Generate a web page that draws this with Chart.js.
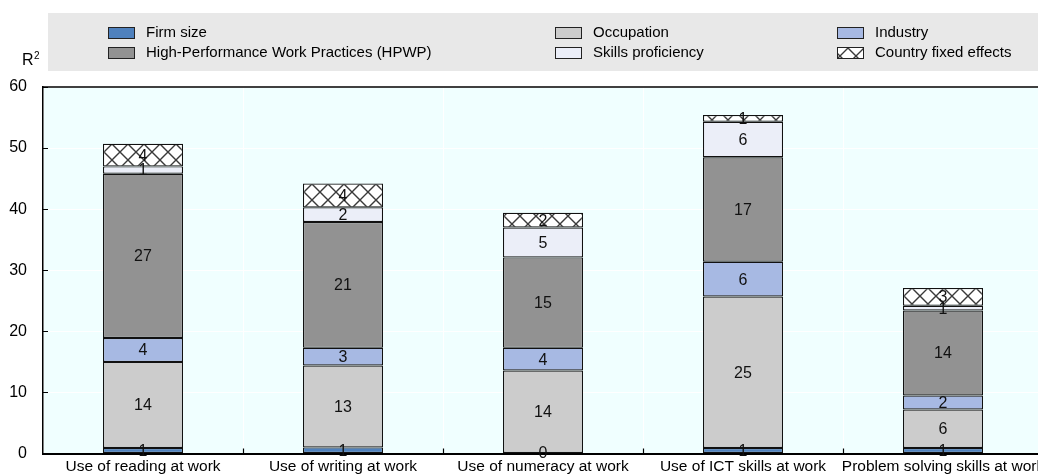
<!DOCTYPE html>
<html><head><meta charset="utf-8">
<script src="https://cdn.jsdelivr.net/npm/chart.js@4.4.1/dist/chart.umd.min.js"></script>
<style>
html,body{margin:0;padding:0;background:#fff;overflow:hidden;width:1038px;height:476px;}
#wrap{position:absolute;left:0;top:0;width:1043px;height:476px;}
</style></head>
<body>
<div id="wrap"><canvas id="c" width="1043" height="476"></canvas></div>
<script>
const categories = ['Use of reading at work','Use of writing at work','Use of numeracy at work','Use of ICT skills at work','Problem solving skills at work'];
const firmSize   = [0.9, 1.0, 0.1, 0.9, 0.9];
const occupation = [14.1, 13.4, 13.5, 24.8, 6.3];
const industry   = [3.9, 2.9, 3.7, 5.7, 2.3];
const hpwp       = [26.9, 20.6, 14.8, 17.1, 13.9];
const skills     = [1.2, 2.4, 4.9, 5.8, 0.8];
const country    = [3.7, 3.9, 2.4, 1.1, 2.9];
const yTicks = [0,10,20,30,40,50,60];

const FONT = "'Liberation Sans', Arial, sans-serif";

const ctx0=document.getElementById('c').getContext('2d');
const hatchPat = (function(){
  const t=document.createElement('canvas');t.width=16;t.height=16;
  const g=t.getContext('2d');
  g.fillStyle='#fff';g.fillRect(0,0,16,16);
  g.strokeStyle='#3a3a3a';g.lineWidth=1.4;
  g.beginPath();g.moveTo(0,0);g.lineTo(16,16);g.moveTo(16,0);g.lineTo(0,16);g.stroke();
  return ctx0.createPattern(t,'repeat');
})();

const datasets = [
  {label:'Firm size', data:firmSize, backgroundColor:'#4F81BD'},
  {label:'Occupation', data:occupation, backgroundColor:'#CCCCCC'},
  {label:'Industry', data:industry, backgroundColor:'#A7B9E3'},
  {label:'High-Performance Work Practices (HPWP)', data:hpwp, backgroundColor:'#929292'},
  {label:'Skills proficiency', data:skills, backgroundColor:'#EBEEF8'},
  {label:'Country fixed effects', data:country, backgroundColor:hatchPat},
].map(d=>Object.assign(d,{borderColor:'#111',borderWidth:1.2,borderSkipped:false,barPercentage:0.4,categoryPercentage:1}));

const legendLayout = [
  {i:0,x:108,y:33},{i:1,x:555,y:33},{i:2,x:837,y:33},
  {i:3,x:108,y:53},{i:4,x:555,y:53},{i:5,x:837,y:53}
];

const decor = {
  id:'decor',
  beforeDraw(chart){
    const {ctx,chartArea:a}=chart;
    ctx.save();
    ctx.fillStyle='#F0FFFF';
    ctx.fillRect(a.left,a.top,a.right-a.left,a.bottom-a.top);
    ctx.fillStyle='#E8E8E8';
    ctx.fillRect(48,13,1000,58);
    ctx.font='15px '+FONT; ctx.textBaseline='middle'; ctx.fillStyle='#000';
    legendLayout.forEach(l=>{
      const ds=chart.data.datasets[l.i];
      ctx.fillStyle=ds.backgroundColor;
      ctx.fillRect(l.x,l.y-6,27,12);
      ctx.strokeStyle='#222'; ctx.lineWidth=1;
      ctx.strokeRect(l.x+0.5,l.y-5.5,26,11);
      ctx.fillStyle='#000';
      ctx.fillText(ds.label,l.x+38,l.y);
    });
    ctx.textAlign='left';
    ctx.font='16px '+FONT;
    ctx.fillText('R',22,61);
    ctx.font='10px '+FONT;
    ctx.fillText('2',34,56);
    ctx.restore();
  },
  afterDraw(chart){
    const {ctx,chartArea:a,scales}=chart;
    ctx.save();
    ctx.strokeStyle='#000'; ctx.lineWidth=1.5;
    ctx.beginPath(); ctx.moveTo(a.left,a.top); ctx.lineTo(a.right,a.top); ctx.stroke();
    ctx.lineWidth=1.2;
    ctx.beginPath();
    yTicks.forEach(v=>{const y=Math.round(scales.y.getPixelForValue(v))+0.5; ctx.moveTo(a.left,y); ctx.lineTo(a.left+5,y);});
    for(let i=1;i<categories.length;i++){
      const x=Math.round((scales.x.getPixelForValue(i-1)+scales.x.getPixelForValue(i))/2)+0.5;
      ctx.moveTo(x,a.bottom); ctx.lineTo(x,a.bottom-5);
    }
    ctx.stroke();
    ctx.font='16px '+FONT; ctx.fillStyle='#111'; ctx.textAlign='center'; ctx.textBaseline='middle';
    chart.data.datasets.forEach((ds,di)=>{
      chart.getDatasetMeta(di).data.forEach((bar,j)=>{
        const cy=(bar.y+bar.base)/2;
        ctx.fillText(String(Math.round(ds.data[j])),bar.x,cy+1);
      });
    });
    ctx.restore();
  }
};

new Chart(document.getElementById('c'),{
  type:'bar',
  data:{labels:categories,datasets},
  plugins:[decor],
  options:{
    responsive:false, animation:false, devicePixelRatio:1,
    layout:{padding:{top:87,right:0,left:0,bottom:0}},
    plugins:{legend:{display:false},tooltip:{enabled:false}},
    scales:{
      x:{stacked:true,
        grid:{color:'#FFFFFF',lineWidth:1,drawTicks:false,offset:true},
        border:{color:'#000',width:2},
        ticks:{color:'#000',font:{family:FONT,size:15.5},padding:4,maxRotation:0,autoSkip:false},
        afterFit(s){s.height=22.5;s.paddingLeft=0;s.paddingRight=0;}
      },
      y:{stacked:true,min:0,max:60,
        afterBuildTicks(s){s.ticks=yTicks.map(v=>({value:v}));},
        grid:{color:'#FFFFFF',lineWidth:1,drawTicks:false},
        border:{color:'#000',width:1.5},
        ticks:{color:'#000',font:{family:FONT,size:16},padding:16},
        afterFit(s){s.width=43;s.paddingTop=0;s.paddingBottom=0;}
      }
    }
  }
});
</script>
</body></html>
